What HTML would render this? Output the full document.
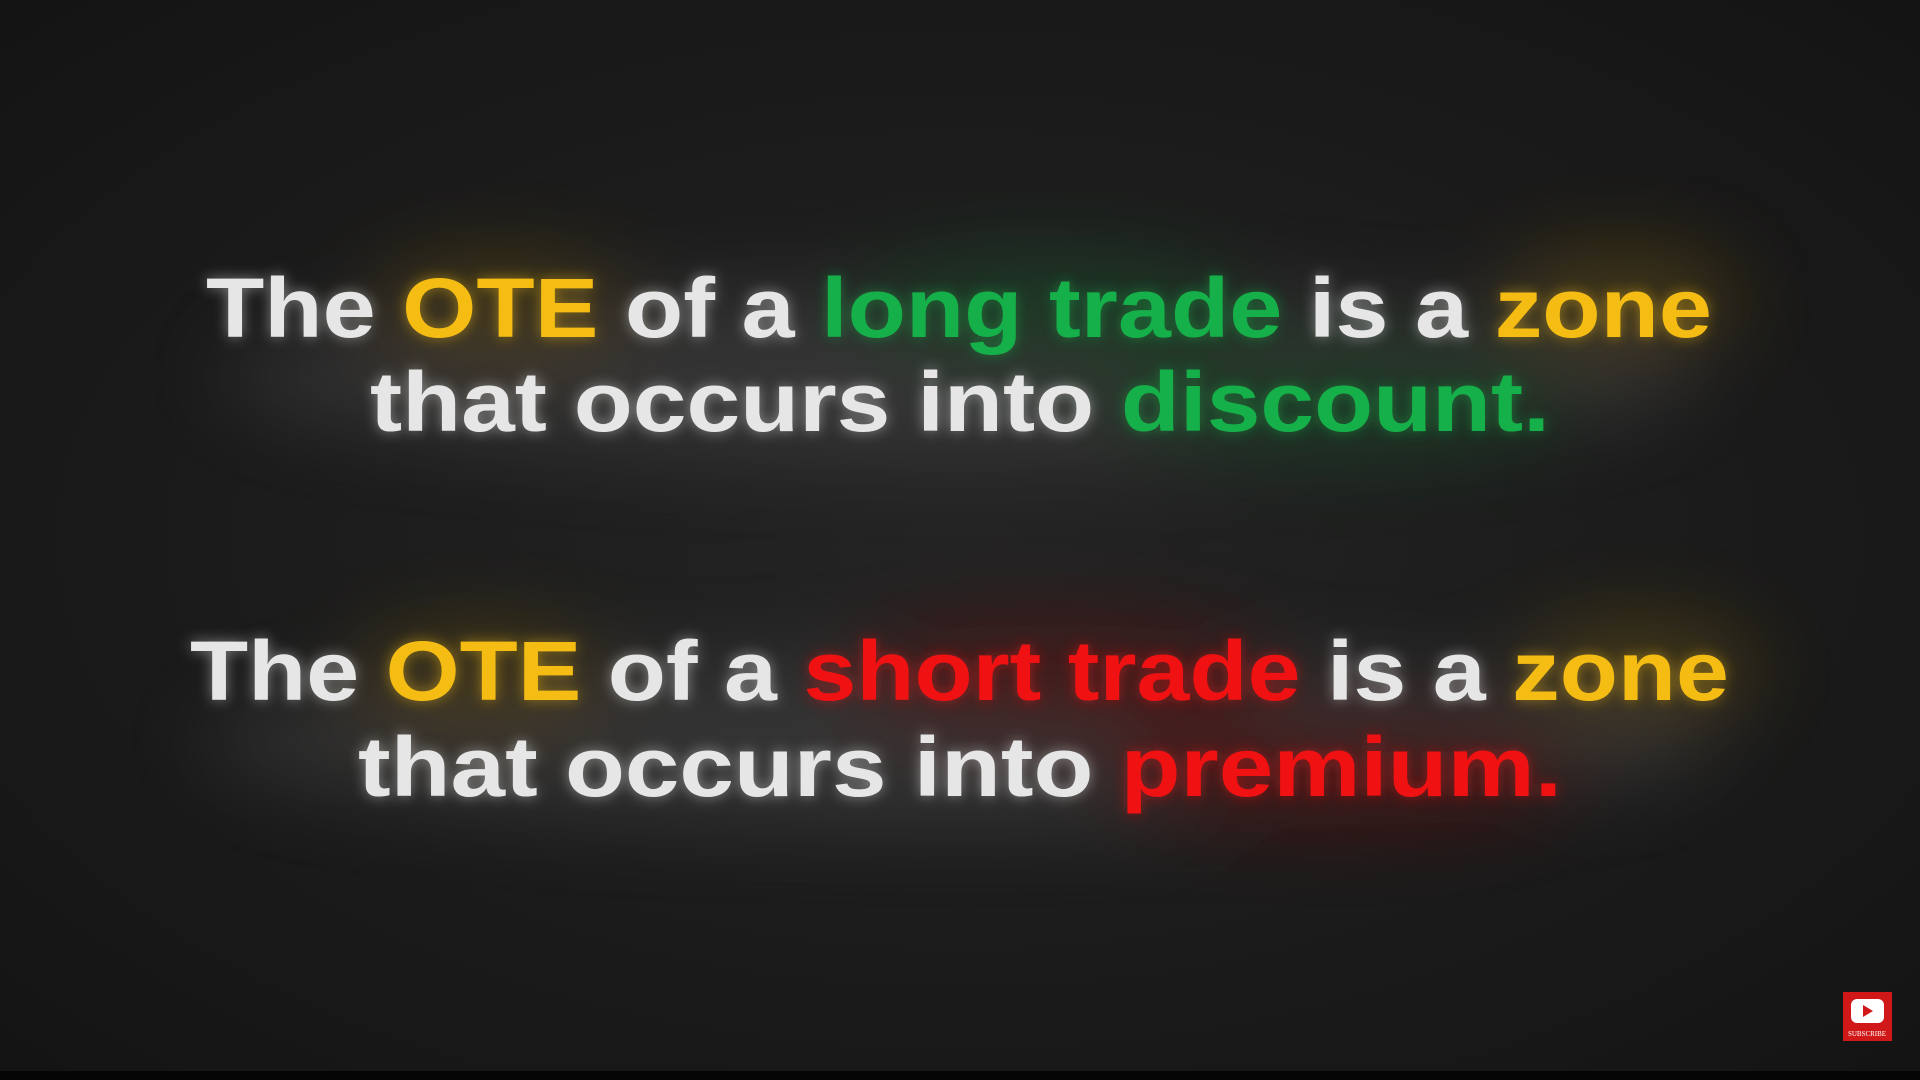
<!DOCTYPE html>
<html>
<head>
<meta charset="utf-8">
<style>
html,body{margin:0;padding:0;width:1920px;height:1080px;overflow:hidden;background:#1b1b1b;}
svg{display:block}
</style>
</head>
<body>
<svg width="1920" height="1080" viewBox="0 0 1920 1080">
<defs>
<filter id="b" filterUnits="userSpaceOnUse" x="-500" y="-500" width="2920" height="2080"><feGaussianBlur stdDeviation="40"/></filter>
<filter id="t" filterUnits="userSpaceOnUse" x="-200" y="-200" width="2320" height="1480"><feGaussianBlur stdDeviation="7"/></filter>
<radialGradient id="vg" cx="50%" cy="50%" r="70%"><stop offset="0" stop-color="#242424"/><stop offset="1" stop-color="#141414"/></radialGradient>
</defs>
<rect width="1920" height="1080" fill="url(#vg)"/>
<g filter="url(#b)" opacity="0.35">
<ellipse cx="960" cy="375" rx="740" ry="85" fill="#5a5a5a"/>
<ellipse cx="500" cy="310" rx="130" ry="50" fill="#8a6a10"/>
<ellipse cx="1050" cy="310" rx="200" ry="55" fill="#1a6a35"/>
<ellipse cx="1340" cy="400" rx="240" ry="55" fill="#1a6a35"/>
<ellipse cx="1620" cy="300" rx="120" ry="50" fill="#8a6a10"/>
<ellipse cx="960" cy="740" rx="760" ry="85" fill="#5a5a5a"/>
<ellipse cx="480" cy="680" rx="130" ry="50" fill="#8a6a10"/>
<ellipse cx="1060" cy="680" rx="220" ry="55" fill="#8a1010"/>
<ellipse cx="1340" cy="770" rx="240" ry="55" fill="#8a1010"/>
<ellipse cx="1640" cy="670" rx="120" ry="50" fill="#8a6a10"/>
</g>
<g font-family="'Liberation Sans', sans-serif" font-weight="bold" font-size="84">
<g filter="url(#t)" opacity="0.5">
<text x="206" y="337" textLength="1506" lengthAdjust="spacingAndGlyphs"><tspan fill="#e6e6e6">The </tspan><tspan fill="#f5bd14">OTE</tspan><tspan fill="#e6e6e6"> of a </tspan><tspan fill="#16b04a">long trade</tspan><tspan fill="#e6e6e6"> is a </tspan><tspan fill="#f5bd14">zone</tspan></text>
<text x="370" y="431" textLength="1180" lengthAdjust="spacingAndGlyphs"><tspan fill="#e6e6e6">that occurs into </tspan><tspan fill="#16b04a">discount.</tspan></text>
<text x="190" y="700" textLength="1539" lengthAdjust="spacingAndGlyphs"><tspan fill="#e6e6e6">The </tspan><tspan fill="#f5bd14">OTE</tspan><tspan fill="#e6e6e6"> of a </tspan><tspan fill="#f01212">short trade</tspan><tspan fill="#e6e6e6"> is a </tspan><tspan fill="#f5bd14">zone</tspan></text>
<text x="358" y="796" textLength="1204" lengthAdjust="spacingAndGlyphs"><tspan fill="#e6e6e6">that occurs into </tspan><tspan fill="#f01212">premium.</tspan></text>
</g>
<text x="206" y="337" textLength="1506" lengthAdjust="spacingAndGlyphs"><tspan fill="#e6e6e6">The </tspan><tspan fill="#f5bd14">OTE</tspan><tspan fill="#e6e6e6"> of a </tspan><tspan fill="#16b04a">long trade</tspan><tspan fill="#e6e6e6"> is a </tspan><tspan fill="#f5bd14">zone</tspan></text>
<text x="370" y="431" textLength="1180" lengthAdjust="spacingAndGlyphs"><tspan fill="#e6e6e6">that occurs into </tspan><tspan fill="#16b04a">discount.</tspan></text>
<text x="190" y="700" textLength="1539" lengthAdjust="spacingAndGlyphs"><tspan fill="#e6e6e6">The </tspan><tspan fill="#f5bd14">OTE</tspan><tspan fill="#e6e6e6"> of a </tspan><tspan fill="#f01212">short trade</tspan><tspan fill="#e6e6e6"> is a </tspan><tspan fill="#f5bd14">zone</tspan></text>
<text x="358" y="796" textLength="1204" lengthAdjust="spacingAndGlyphs"><tspan fill="#e6e6e6">that occurs into </tspan><tspan fill="#f01212">premium.</tspan></text>
</g>
<rect x="0" y="1071" width="1920" height="9" fill="#050505"/>
<g>
<rect x="1843" y="992" width="49" height="49" fill="#d01818"/>
<rect x="1851" y="999" width="33" height="24" rx="6" fill="#fff"/>
<polygon points="1863,1005 1863,1017 1873,1011" fill="#d01818"/>
<text x="1867" y="1036" font-family="'Liberation Serif', serif" font-size="7" fill="#fff" text-anchor="middle">SUBSCRIBE</text>
</g>
</svg>
</body>
</html>
